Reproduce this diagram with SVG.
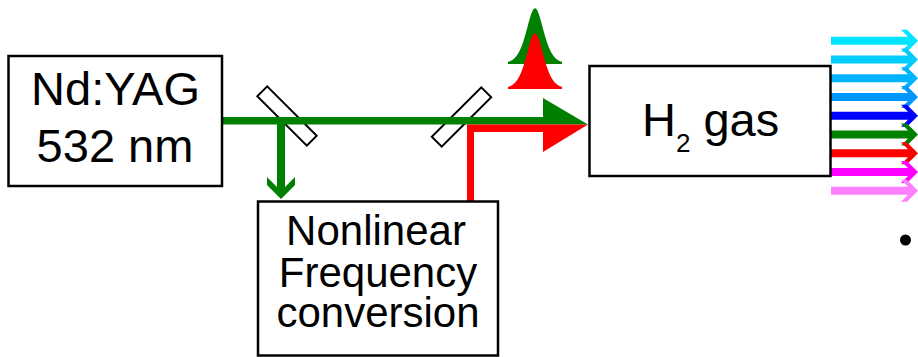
<svg xmlns="http://www.w3.org/2000/svg" xmlns:xlink="http://www.w3.org/1999/xlink" width="918" height="357" viewBox="0 0 918 357">
<style>
.box{fill:#fff;stroke:#000;stroke-width:2.5}
.mirror{fill:#fff;stroke:#000;stroke-width:2}
.lbl{font-family:"Liberation Sans",Arial,sans-serif;fill:#000;text-anchor:middle}
</style>
<defs>
<path id="pulse" d="M508,64 L508,62.1 L512,60.3 L515,57.7 L517,55.3 L519,52.1 L521,47.8 L523,42.5 L525,36.1 L527,28.8 L529,21.3 L531,14.5 L533,9.7 L535,8 L537,9.7 L539,14.5 L541,21.3 L543,28.8 L545,36.1 L547,42.5 L549,47.8 L551,52.1 L553,55.3 L555,57.7 L558,60.3 L562,62.1 L562,64 Z"/>
<path id="outArrow" d="M831,-4 L908,-4 L901,-11 L907,-11 L918,0 L907,11 L901,11 L908,4 L831,4 Z"/>
</defs>
<g id="mirrors">
<rect class="mirror" x="-35" y="-7" width="70" height="14" transform="translate(287,116) rotate(45)"/>
<rect class="mirror" x="-35" y="-7" width="70" height="14" transform="translate(461.5,117) rotate(-45)"/>
</g>
<g id="pulses">
<use xlink:href="#pulse" fill="#008000"/>
<use xlink:href="#pulse" y="25" fill="#FF0000"/>
</g>
<g id="connectors">
<path d="M222,117 L543,117 L543,98 L588,124.5 L222,124.5 Z" fill="#008000"/>
<path d="M467,201 L467,124.5 L588,124.5 L543,152 L543,132 L474,132 L474,201 Z" fill="#FF0000"/>
<path d="M277,121 L277,187 L267,177 L267,185 L281,199 L295,185 L295,177 L285,187 L285,121 Z" fill="#008000"/>
</g>
<g id="outputs">
<use xlink:href="#outArrow" y="40.7" fill="#00E5FF"/>
<use xlink:href="#outArrow" y="59.4" fill="#00CCFF"/>
<use xlink:href="#outArrow" y="78.2" fill="#00B4FF"/>
<use xlink:href="#outArrow" y="97" fill="#0096FF"/>
<use xlink:href="#outArrow" y="115.8" fill="#0000FF"/>
<use xlink:href="#outArrow" y="134.6" fill="#008000"/>
<use xlink:href="#outArrow" y="153.3" fill="#FF0000"/>
<use xlink:href="#outArrow" y="172" fill="#FF00FF"/>
<use xlink:href="#outArrow" y="190.7" fill="#FF80FF"/>
</g>
<g id="nd-yag">
<rect class="box" x="8.5" y="56" width="213.5" height="130"/>
<text class="lbl" x="115.5" y="105" font-size="47">Nd:YAG</text>
<text class="lbl" x="115" y="162" font-size="47">532 nm</text>
</g>
<g id="nonlinear">
<rect class="box" x="258" y="201.5" width="240" height="154"/>
<text class="lbl" x="376" y="245" font-size="42">Nonlinear</text>
<text class="lbl" x="378" y="287" font-size="42">Frequency</text>
<text class="lbl" x="378" y="327" font-size="42">conversion</text>
</g>
<g id="h2-gas">
<rect class="box" x="589.5" y="66" width="241" height="110"/>
<text x="642" y="136" font-size="47" font-family="'Liberation Sans',Arial,sans-serif" fill="#000">H<tspan font-size="26" dy="16">2</tspan><tspan dy="-16"> gas</tspan></text>
</g>
<circle id="bullet" cx="905.5" cy="240" r="5.5" fill="#000"/>
</svg>
